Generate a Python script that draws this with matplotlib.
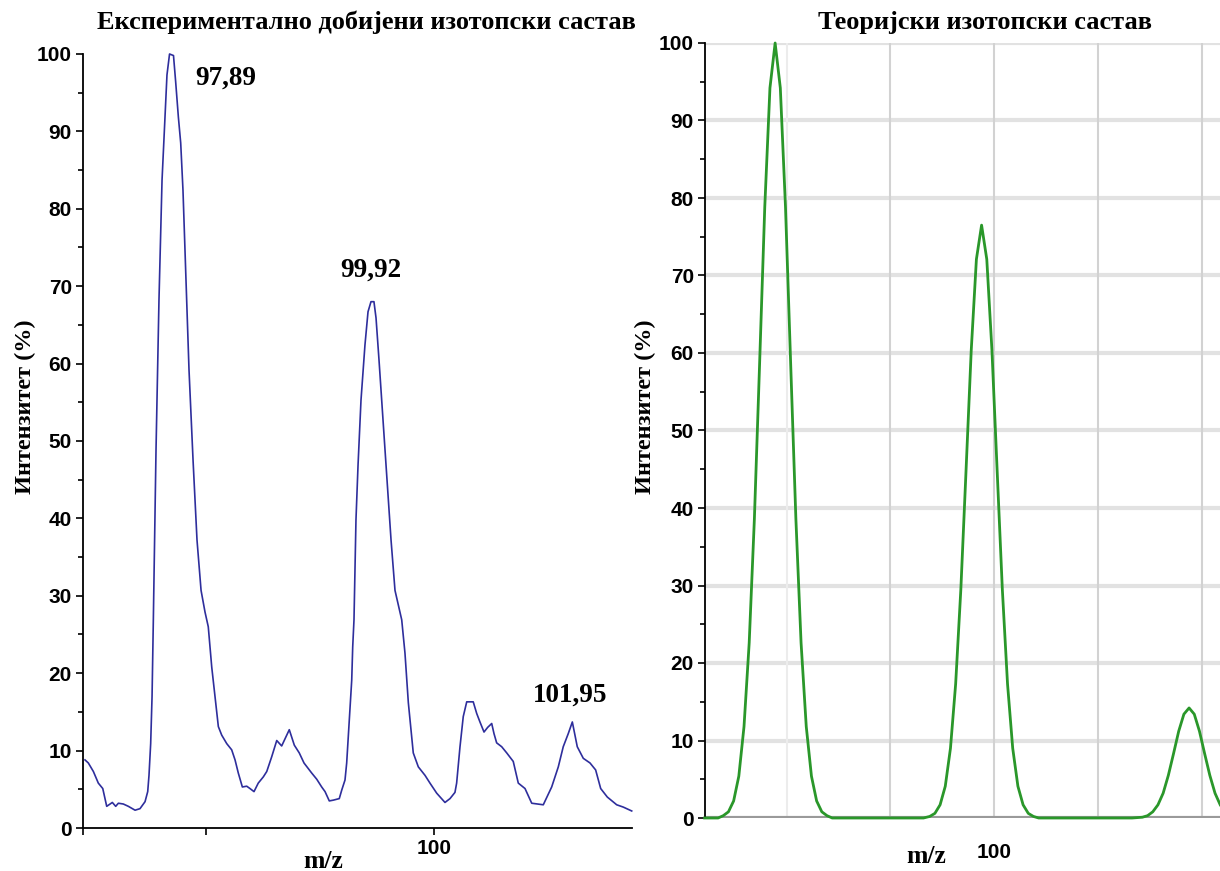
import matplotlib
matplotlib.use("Agg")
import matplotlib.pyplot as plt
from matplotlib.ticker import MultipleLocator

# experimental isotope pattern (m/z, intensity %)
exp_mz = [97.009, 97.043, 97.094, 97.144, 97.189, 97.229, 97.286, 97.320, 97.347, 97.397,
          97.448, 97.516, 97.566, 97.617, 97.644, 97.657, 97.674, 97.688, 97.701, 97.728,
          97.758, 97.789, 97.819, 97.839, 97.865, 97.905, 97.927, 97.954, 97.978, 98.001,
          98.032, 98.062, 98.103, 98.143, 98.184, 98.224, 98.257, 98.292, 98.325, 98.359,
          98.393, 98.444, 98.494, 98.528, 98.561, 98.602, 98.646, 98.679, 98.720, 98.763,
          98.814, 98.849, 98.899, 98.950, 99.000, 99.077, 99.128, 99.178, 99.226, 99.304,
          99.355, 99.405, 99.439, 99.482, 99.523, 99.583, 99.608, 99.641, 99.658, 99.674,
          99.692, 99.709, 99.719, 99.732, 99.752, 99.773, 99.803, 99.843, 99.874, 99.904,
          99.934, 99.955, 99.985, 100.026, 100.066, 100.107, 100.147, 100.215, 100.248, 100.282,
          100.332, 100.383, 100.451, 100.501, 100.569, 100.653, 100.704, 100.754, 100.771, 100.805,
          100.838, 100.873, 100.939, 100.974, 101.007, 101.048, 101.085, 101.126, 101.149, 101.176,
          101.227, 101.278, 101.344, 101.395, 101.463, 101.531, 101.648, 101.733, 101.800, 101.850,
          101.901, 101.942, 101.992, 102.053, 102.121, 102.178, 102.229, 102.296, 102.391, 102.458,
          102.543]
exp_int = [8.8, 8.4, 7.3, 5.8, 5.1, 2.8, 3.3, 2.8, 3.2, 3.1,
           2.8, 2.3, 2.5, 3.4, 4.7, 6.8, 10.9, 17.0, 26.9, 48.8,
           68.2, 83.7, 91.9, 97.3, 100.0, 99.8, 96.4, 91.9, 88.5, 82.4,
           70.8, 59.2, 47.5, 37.2, 30.7, 27.9, 26.0, 20.8, 17.0, 13.1,
           12.0, 10.9, 10.1, 8.8, 7.1, 5.3, 5.4, 5.1, 4.7, 5.8,
           6.6, 7.3, 9.2, 11.3, 10.6, 12.7, 10.7, 9.7, 8.4, 7.1,
           6.3, 5.3, 4.7, 3.5, 3.6, 3.8, 4.9, 6.2, 8.4, 11.8,
           15.7, 19.1, 23.4, 26.9, 39.8, 46.9, 55.3, 62.4, 66.7, 68.0,
           68.0, 65.9, 60.5, 52.7, 45.0, 37.2, 30.7, 26.9, 22.6, 16.2,
           9.7, 7.9, 6.8, 5.8, 4.5, 3.3, 3.8, 4.6, 5.8, 10.5,
           14.4, 16.3, 16.3, 14.8, 13.7, 12.4, 13.0, 13.5, 12.2, 11.0,
           10.5, 9.7, 8.6, 5.8, 5.1, 3.2, 3.0, 5.3, 7.9, 10.5,
           12.2, 13.7, 10.5, 9.0, 8.4, 7.5, 5.1, 4.0, 3.0, 2.7,
           2.2]
exp_labels = ["97,89", "99,92", "101,95"]
exp_label_pos = [(98.13, 96.9), (99.59, 72.1), (101.54, 17.2)]

# theoretical isotope pattern
th_mz = [97.21, 97.34, 97.39, 97.44, 97.49, 97.54, 97.59, 97.64, 97.69, 97.74, 97.79,
         97.84, 97.89, 97.94, 97.99, 98.04, 98.09, 98.14, 98.19, 98.24, 98.29,
         98.34, 98.39, 98.44,
         99.32, 99.38, 99.43, 99.48, 99.53, 99.58, 99.63, 99.68, 99.73, 99.78,
         99.83, 99.88, 99.93, 99.98, 100.03, 100.08, 100.13, 100.18, 100.23, 100.28,
         100.33, 100.38, 100.43,
         101.33, 101.43, 101.48, 101.53, 101.58, 101.63, 101.68, 101.73, 101.78, 101.83,
         101.88, 101.93, 101.98, 102.03, 102.08, 102.13, 102.18]
th_int = [0.0, 0.0, 0.3, 0.8, 2.2, 5.4, 11.8, 22.6, 38.6, 58.5, 78.8,
          94.2, 100.0, 94.2, 78.8, 58.5, 38.6, 22.6, 11.8, 5.4, 2.2,
          0.8, 0.3, 0.0,
          0.0, 0.2, 0.6, 1.7, 4.1, 9.0, 17.3, 29.5, 44.8, 60.3,
          72.1, 76.5, 72.1, 60.3, 44.8, 29.5, 17.3, 9.0, 4.1, 1.7,
          0.6, 0.2, 0.0,
          0.0, 0.1, 0.3, 0.8, 1.7, 3.2, 5.5, 8.3, 11.2, 13.4,
          14.2, 13.4, 11.2, 8.3, 5.5, 3.2, 1.7]

serif = "Liberation Serif"
sans = "Liberation Sans"
tick_fs = 15

fig = plt.figure(figsize=(12.2, 8.71), dpi=100)

def style_y(ax):
    ax.set_ylim(0, 100)
    ax.yaxis.set_major_locator(MultipleLocator(10))
    ax.yaxis.set_minor_locator(MultipleLocator(5))
    ax.tick_params(axis="y", which="major", length=5, width=1.2, pad=3,
                   labelsize=tick_fs)
    ax.tick_params(axis="y", which="minor", length=3.5, width=1.2)
    for lab in ax.get_yticklabels():
        lab.set_fontfamily(sans)
        lab.set_fontweight("bold")
    for s in ["top", "right"]:
        ax.spines[s].set_visible(False)
    ax.spines["left"].set_linewidth(1.3)

# left: experimental
ax1 = fig.add_axes([83 / 1220, 1 - 828 / 871, 549 / 1220, 774 / 871])
ax1.plot(exp_mz, exp_int, color="#2e2e9c", lw=1.2, clip_on=False)
ax1.set_xlim(96.989, 102.546)
style_y(ax1)
ax1.spines["bottom"].set_linewidth(1.3)
ax1.set_xticks([96.989, 98.234, 100.542])
ax1.set_xticklabels(["", "", "100"])
ax1.tick_params(axis="x", length=5, width=1.2, pad=3, labelsize=tick_fs)
for lab in ax1.get_xticklabels():
    lab.set_fontfamily(sans)
    lab.set_fontweight("bold")
for txt, (x, y) in zip(exp_labels, exp_label_pos):
    ax1.text(x, y, txt, fontsize=19.5, fontweight="bold", family=serif,
             ha="left", va="center")

# right: theoretical
ax2 = fig.add_axes([705 / 1220, 1 - 818 / 871, 515 / 1220, 775 / 871])
ax2.set_xlim(97.214, 102.178)
style_y(ax2)
ax2.spines["bottom"].set_visible(False)
for yv in range(10, 101, 10):
    ax2.axhline(yv, color="#e2e2e2", lw=3, zorder=0)
for xv in [98, 99, 100, 101, 102]:
    ax2.axvline(xv, color="#ececec" if xv == 98 else "#d2d2d2", lw=1.5, zorder=0)
ax2.axhline(0, color="#9a9a9a", lw=3, zorder=1)
ax2.plot(th_mz, th_int, color="#2a972a", lw=2, clip_on=False, zorder=3)
ax2.set_xticks([100])
ax2.set_xticklabels(["100"])
ax2.tick_params(axis="x", length=0, pad=18, labelsize=tick_fs)
for lab in ax2.get_xticklabels():
    lab.set_fontfamily(sans)
    lab.set_fontweight("bold")

# titles and axis labels
fig.text(366 / 1220, 1 - 22 / 871, "Експериментално добијени изотопски састав",
         family=serif, fontweight="bold", fontsize=19, ha="center", va="center")
fig.text(985 / 1220, 1 - 22 / 871, "Теоријски изотопски састав",
         family=serif, fontweight="bold", fontsize=19, ha="center", va="center")
for xp in [25, 645]:
    fig.text(xp / 1220, 1 - 407 / 871, "Интензитет (%)", family=serif,
             fontweight="bold", fontsize=17.5, rotation=90, ha="center", va="center")
fig.text(323 / 1220, 1 - 861 / 871, "m/z", family=serif, fontweight="bold",
         fontsize=18.5, ha="center", va="center")
fig.text(926 / 1220, 1 - 856 / 871, "m/z", family=serif, fontweight="bold",
         fontsize=18.5, ha="center", va="center")

fig.savefig("out.png", dpi=100)
